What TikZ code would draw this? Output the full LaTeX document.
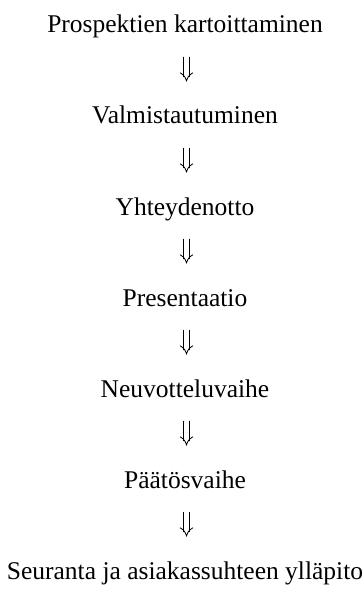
\documentclass[tikz,border=0pt]{standalone}
\usepackage{fontspec}
\setmainfont{Liberation Serif}
\begin{document}
\begin{tikzpicture}[x=1pt, y=1pt,
  phase/.style={anchor=base, inner sep=0pt, text height=15pt, text depth=5pt, font=\fontsize{25.5}{30}\selectfont},
  step line/.style={line width=0.8pt, line cap=round}]
			\useasboundingbox (0,0) rectangle (363,-612);
			\node[phase] at (185, -33) (kart) {Prospektien kartoittaminen};
			\node[phase] at (185, -124) (valm) {Valmistautuminen};
			\node[phase] at (185, -215) (yht) {Yhteydenotto};
			\node[phase] at (185, -306) (pres) {Presentaatio};
			\node[phase] at (185, -397) (neuv) {Neuvotteluvaihe};
			\node[phase] at (185, -488) (paat) {Päätösvaihe};
			\node[phase] at (185, -579) (seur) {Seuranta ja asiakassuhteen ylläpito};

			% double arrows between the phases
			\foreach \a/\b in {kart/valm, valm/yht, yht/pres, pres/neuv, neuv/paat, paat/seur} {
				\draw[step line] ([xshift=-1.8pt, yshift=-19pt]\a.south) -- ([xshift=-1.8pt, yshift=32pt]\b.north);
				\draw[step line] ([xshift=4.8pt, yshift=-19pt]\a.south) -- ([xshift=4.8pt, yshift=32pt]\b.north);
				\draw[step line] ([xshift=-4.8pt, yshift=36pt]\b.north) .. controls ([xshift=-0.5pt, yshift=33pt]\b.north) .. ([xshift=1.5pt, yshift=28pt]\b.north)
					.. controls ([xshift=3.5pt, yshift=33pt]\b.north) .. ([xshift=7.8pt, yshift=36pt]\b.north);
			}
		\end{tikzpicture}
\end{document}
